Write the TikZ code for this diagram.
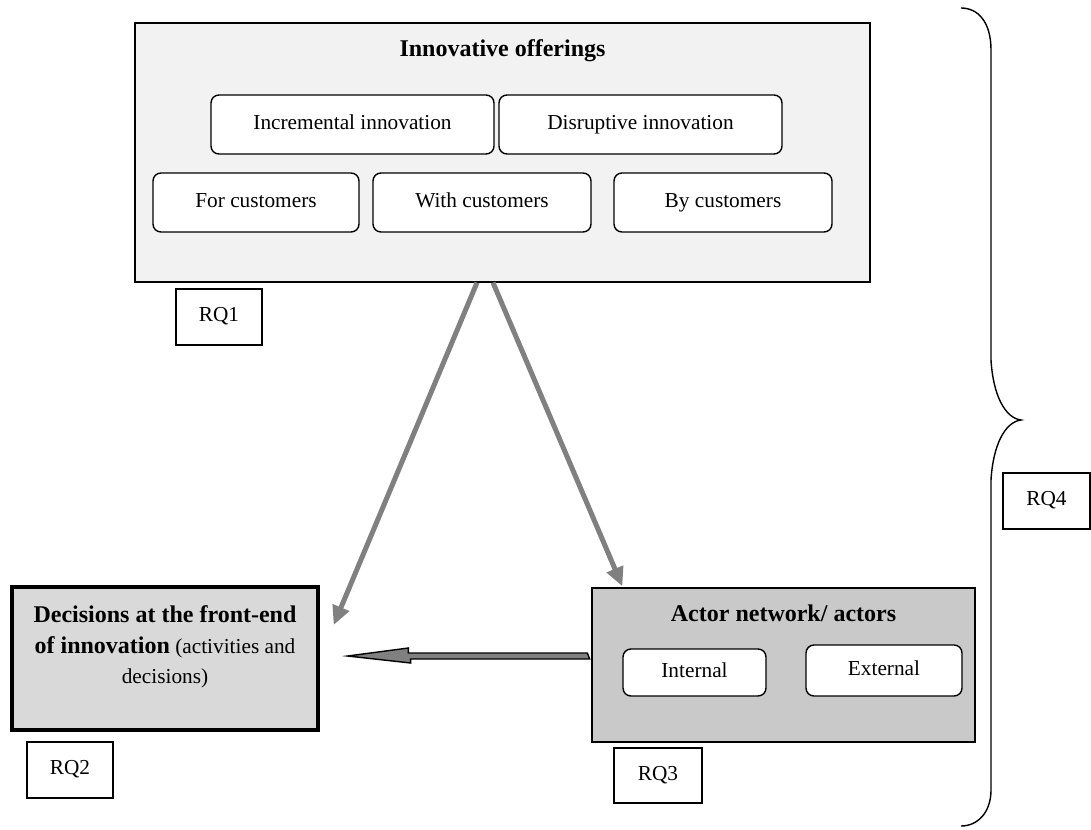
\documentclass[tikz,border=0pt]{standalone}
\usepackage{fontspec}
\setmainfont{Liberation Serif}
\usetikzlibrary{arrows.meta,calc}

\definecolor{offerfill}{HTML}{F2F2F2}
\definecolor{decisionfill}{HTML}{D9D9D9}
\definecolor{actorfill}{HTML}{C9C9C9}
\definecolor{flowgray}{HTML}{808080}

\newcommand\txtreg{\fontsize{21.3}{25}\selectfont}
\newcommand\txtbold{\fontsize{24}{28}\selectfont\bfseries}

\begin{document}
\begin{tikzpicture}[x=1pt,y=-1pt,
  panel/.style={draw=black, line width=1.3pt, inner sep=0pt},
  pill/.style={draw=black, fill=white, rounded corners=8pt, line width=1.4pt, inner sep=0pt,
    font=\txtreg, text height=14pt, text depth=4.5pt},
  rqbox/.style={draw=black, fill=white, line width=1.4pt, inner sep=0pt,
    font=\txtreg, text height=14pt, text depth=4.5pt},
  heading/.style={anchor=base, inner sep=0pt, font=\txtbold},
  flow/.style={draw=flowgray, line width=5pt, -{Triangle[length=19pt,width=17pt]}},
  blockarrow/.style={draw=black, fill=flowgray, line width=1.4pt, line join=miter},
  brace/.style={draw=black, line width=1.4pt}
]
\useasboundingbox (0,0) rectangle (1091,829);

% Innovative offerings panel
\node[panel, fill=offerfill, minimum width=735pt, minimum height=259pt] (offer) at (502.5,152.5) {};
\node[heading] (offertitle) at (502.5,57) {Innovative offerings};
\node[pill, minimum width=283pt, minimum height=59pt] (incr) at (352.5,124.5) {Incremental innovation};
\node[pill, minimum width=283pt, minimum height=59pt] (disr) at (640.5,124.5) {Disruptive innovation};
\node[pill, minimum width=206pt, minimum height=59pt] (forc) at (256,202.5) {For customers};
\node[pill, minimum width=218pt, minimum height=59pt] (withc) at (482,202.5) {With customers};
\node[pill, minimum width=218pt, minimum height=59pt] (byc) at (723,202.5) {By customers};
\node[rqbox, minimum width=86pt, minimum height=56pt] (rq1) at (219,317) {RQ1};

% Decisions panel
\node[panel, fill=decisionfill, line width=3.3pt, minimum width=306pt, minimum height=143pt] (dec) at (165,658.5) {};
\node[heading] (decA) at (165,622) {Decisions at the front-end};
\node[anchor=base, inner sep=0pt, font=\txtreg] (decB) at (165,653) {{\txtbold of innovation} (activities and};
\node[anchor=base, inner sep=0pt, font=\txtreg] (decC) at (165,683) {decisions)};
\node[rqbox, minimum width=86pt, minimum height=56pt] (rq2) at (70,770) {RQ2};

% Actor network panel
\node[panel, fill=actorfill, minimum width=383pt, minimum height=154pt] (actor) at (783.5,665) {};
\node[heading] (actortitle) at (783.5,621) {Actor network/ actors};
\node[pill, minimum width=143pt, minimum height=47pt] (intl) at (694.5,672.5) {Internal};
\node[pill, minimum width=156pt, minimum height=51pt] (extl) at (884,670.5) {External};
\node[rqbox, minimum width=88pt, minimum height=55pt] (rq3) at (658,775.5) {RQ3};

\node[rqbox, minimum width=87pt, minimum height=56pt] (rq4) at (1046.5,501) {RQ4};

% flows from the offerings panel
\coordinate (fromL) at ($(offer.south)+(-25.5,0)$);
\coordinate (fromR) at ($(offer.south)+(-9.5,0)$);
\coordinate (toDec) at ($(dec.east)+(14,-33.5)$);
\coordinate (toActor) at ($(actor.north west)+(31,-1)$);
\draw[flow] (fromL) -- (toDec);
\draw[flow] (fromR) -- (toActor);

% block arrow from actors to decisions
\coordinate (hStart) at ($(actor.west)+(-4,-9)$);
\coordinate (hTip) at ($(dec.east)+(28,-2.5)$);
\draw[blockarrow] ($(hStart)+(0,-3)$) -- ++(-179,0) -- ++(0,-5) -- (hTip)
  -- ++(63,7) -- ++(0,-4) -- ++(179,0) -- cycle;

% right brace spanning the whole framework
\coordinate (braceTip) at (1021,420);
\draw[brace] (961,8) .. controls (978,8) and (991,22) .. (991,50)
  -- (991,360) .. controls (993,395) and (1005,418) .. (braceTip)
  .. controls (1005,422) and (993,445) .. (991,480)
  -- (991,790) .. controls (991,812) and (978,826) .. (961,826);
\end{tikzpicture}
\end{document}
